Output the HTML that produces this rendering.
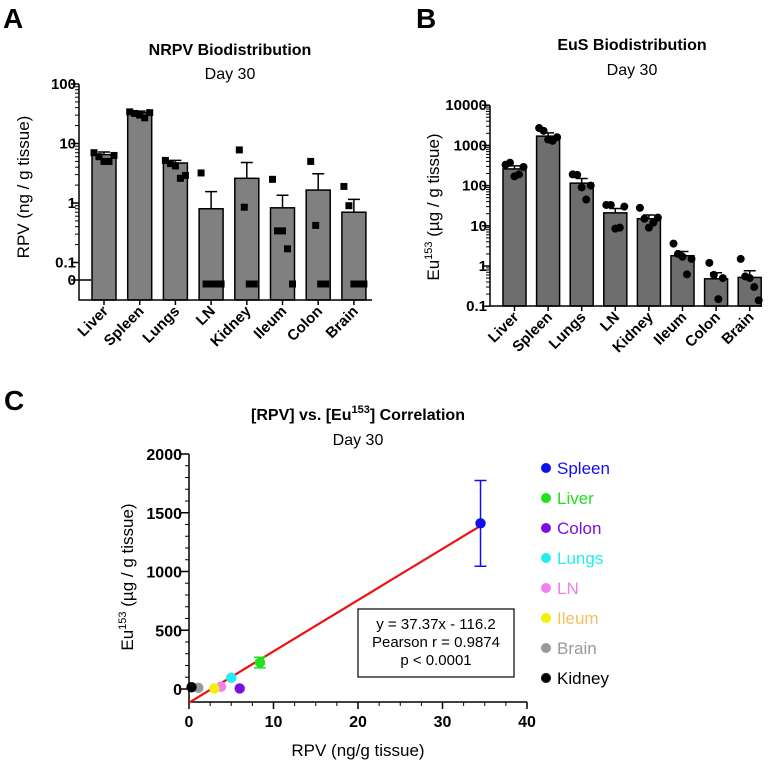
<!DOCTYPE html>
<html><head><meta charset="utf-8"><style>
html,body{margin:0;padding:0;background:#fff;}
svg{display:block;font-family:"Liberation Sans",Arial,sans-serif;}
</style></head><body>
<svg id="fig" width="775" height="767" viewBox="0 0 775 767" xmlns="http://www.w3.org/2000/svg">
<text x="3" y="28" font-size="28" font-weight="bold">A</text>
<text x="416" y="28" font-size="28" font-weight="bold">B</text>
<text x="4" y="410" font-size="28" font-weight="bold">C</text>
<g id="pa"></g>
<g id="pb"></g>
<g id="pc"></g>
</svg>
<script>
const organs = ["Liver","Spleen","Lungs","LN","Kidney","Ileum","Colon","Brain"];
// Panel A
const aMeans = [6.5,33,4.7,0.8,2.6,0.83,1.65,0.7];
const aErrTop = [7.2,35,5.2,1.55,4.8,1.35,3.1,1.15];
const aPoints = [[7,6,5,5,6.3],[34,32,30,27,33],[5.2,4.6,4.2,2.6,2.9],[3.2,0,0,0,0],[7.8,0.85,0,0],[2.5,0.34,0.34,0.17,0],[5,0.42,0,0],[1.9,0.9,0,0,0]];
const aTicks = [100,10,1,0.1];
const aTickLabels = ["100","10","1","0.1"];
// Panel B
const bMeans = [260,1700,115,21,15,1.8,0.48,0.52];
const bErrTop = [310,2050,150,27,18.5,2.3,0.68,0.76];
const bPoints = [[330,370,170,190,290],[2700,2300,1400,1300,1600],[190,185,90,45,100],[33,33,8.5,9,30],[28,15,9,12,16],[3.6,2,1.7,0.62,1.5],[1.2,0.6,0.15,0.5],[1.5,0.55,0.5,0.3,0.14]];
const bTicks = [10000,1000,100,10,1,0.1];
const bTickLabels = ["10000","1000","100","10","1","0.1"];
// Panel C
const cNames = ["Spleen","Liver","Colon","Lungs","LN","Ileum","Brain","Kidney"];
const cX = [34.5,8.4,6,5,3.8,3,1.1,0.3];
const cY = [1410,225,5,95,20,5,10,15];
const cErr = [365,45,0,0,0,0,0,0];
const cColors = ["#1010ee","#22e022","#7a10e0","#22eef0","#f07ff0","#f2f200","#999999","#000000"];
const cTextColors = ["#1010ee","#22e022","#7a10e0","#22eef0","#f07ff0","#f5c060","#999999","#000000"];
const cLineX = [0,34.4];
const cLineY = [-116,1385];
const cXTicks = [0,10,20,30,40];
const cYTicks = [0,500,1000,1500,2000];

const NS="http://www.w3.org/2000/svg";
function mk(p,tag,attrs,txt){const e=document.createElementNS(NS,tag);for(const k in attrs)e.setAttribute(k,attrs[k]);if(txt!==undefined)e.textContent=txt;p.appendChild(e);return e;}

// ---------- Panel A ----------
(function(){
const g=document.getElementById('pa');
const ax=79, base=300, axEnd=372;
const yA=v=> v<=0 ? 284 : 203-59.5*Math.log10(v);
const xA=i=> 92+i*35.7;
const bw=24;
mk(g,'text',{x:230,y:55,'font-size':16,'font-weight':'bold','text-anchor':'middle',},'NRPV Biodistribution');
mk(g,'text',{x:230,y:79,'font-size':16,'text-anchor':'middle',},'Day 30');
mk(g,'text',{x:0,y:0,'font-size':17,'text-anchor':'middle',transform:'translate(29,187) rotate(-90)',},'RPV (ng / g tissue)');
organs.forEach((o,i)=>{
 const x=xA(i), yt=yA(aMeans[i]);
 const b=mk(g,'rect',{x:x,y:yt,width:bw,height:base-yt,fill:'#808080',stroke:'#000','stroke-width':1.5});
 
 
 const cx=x+bw/2, ye=yA(aErrTop[i]);
 mk(g,'path',{d:`M${cx} ${yt}V${ye}M${cx-6} ${ye}H${cx+6}`,stroke:'#000','stroke-width':1.5,fill:'none'});
 const pts=aPoints[i], n=pts.length;
 pts.forEach((v,j)=>{
  const off=(j-(n-1)/2)*5;
  const s=mk(g,'rect',{x:cx+off-3.5,y:yA(v)-3.5,width:7,height:7,fill:'#000'});
  
  
 });
 mk(g,'path',{d:`M${cx} ${base}v5`,stroke:'#000','stroke-width':1.5});
 const t=mk(g,'text',{x:0,y:0,'font-size':15,'font-weight':'bold','text-anchor':'end',transform:`translate(${cx+5},${base+12}) rotate(-45)`},o);
 
 
});
mk(g,'path',{d:`M${ax} 84V${base}H${axEnd}`,stroke:'#000','stroke-width':1.5,fill:'none',});
for(let d=-1;d<2;d++){for(let m=2;m<10;m++){const y=yA(m*Math.pow(10,d));mk(g,'path',{d:`M${ax-4} ${y}H${ax}`,stroke:'#000','stroke-width':1});}}
aTicks.forEach((v,i)=>{const y=yA(v);mk(g,'path',{d:`M${ax-8} ${y}H${ax}`,stroke:'#000','stroke-width':1.5});
 const t=mk(g,'text',{x:ax-3,y:y+5,'font-size':15,'font-weight':'bold','text-anchor':'end'},aTickLabels[i]);
 });
mk(g,'path',{d:`M${ax-8} 280H${ax+12}`,stroke:'#000','stroke-width':1.5});
mk(g,'text',{x:ax-3,y:285,'font-size':15,'font-weight':'bold','text-anchor':'end',},'0');
})();

// ---------- Panel B ----------
(function(){
const g=document.getElementById('pb');
const ax=490, base=306, axEnd=762;
const yB=v=> 266-40.2*Math.log10(v);
const xB=i=> 503+i*33.6;
const bw=23;
mk(g,'text',{x:632,y:50,'font-size':16,'font-weight':'bold','text-anchor':'middle',},'EuS Biodistribution');
mk(g,'text',{x:632,y:75,'font-size':16,'text-anchor':'middle',},'Day 30');
const yl=mk(g,'text',{x:0,y:0,'font-size':17,'text-anchor':'middle',transform:'translate(439,207) rotate(-90)',});
yl.innerHTML='Eu<tspan font-size="11" dy="-7">153</tspan><tspan dy="7"> (µg / g tissue)</tspan>';
organs.forEach((o,i)=>{
 const x=xB(i), yt=yB(bMeans[i]);
 const b=mk(g,'rect',{x:x,y:yt,width:bw,height:base-yt,fill:'#6e6e6e',stroke:'#000','stroke-width':1.5});
 
 
 const cx=x+bw/2, ye=yB(bErrTop[i]);
 mk(g,'path',{d:`M${cx} ${yt}V${ye}M${cx-6} ${ye}H${cx+6}`,stroke:'#000','stroke-width':1.5,fill:'none'});
 const pts=bPoints[i], n=pts.length;
 pts.forEach((v,j)=>{
  const off=(j-(n-1)/2)*4.5;
  const c=mk(g,'circle',{cx:cx+off,cy:yB(v),r:4,fill:'#000'});
  
  
 });
 mk(g,'path',{d:`M${cx} ${base}v5`,stroke:'#000','stroke-width':1.5});
 const t=mk(g,'text',{x:0,y:0,'font-size':15,'font-weight':'bold','text-anchor':'end',transform:`translate(${cx+5},${base+12}) rotate(-45)`},o);
 
 
});
mk(g,'path',{d:`M${ax} ${yB(10000)}V${base}H${axEnd}`,stroke:'#000','stroke-width':1.5,fill:'none',});
for(let d=-1;d<4;d++){for(let m=2;m<10;m++){const y=yB(m*Math.pow(10,d));mk(g,'path',{d:`M${ax-4} ${y}H${ax}`,stroke:'#000','stroke-width':1});}}
bTicks.forEach((v,i)=>{const y=yB(v);mk(g,'path',{d:`M${ax-8} ${y}H${ax}`,stroke:'#000','stroke-width':1.5});
 const t=mk(g,'text',{x:ax-3,y:y+5,'font-size':15,'font-weight':'bold','text-anchor':'end'},bTickLabels[i]);
 });
})();

// ---------- Panel C ----------
(function(){
const g=document.getElementById('pc');
const ax=189, base=702, axEnd=527;
const xC=v=> 189+8.45*v;
const yC=v=> 689-0.1175*v;
const t1=mk(g,'text',{x:358,y:420,'font-size':16,'font-weight':'bold','text-anchor':'middle',});
t1.innerHTML='[RPV] vs. [Eu<tspan font-size="11" dy="-7">153</tspan><tspan dy="7">] Correlation</tspan>';
mk(g,'text',{x:358,y:445,'font-size':16,'text-anchor':'middle',},'Day 30');
const yl=mk(g,'text',{x:0,y:0,'font-size':17,'text-anchor':'middle',transform:'translate(133,577) rotate(-90)',});
yl.innerHTML='Eu<tspan font-size="11" dy="-7">153</tspan><tspan dy="7"> (µg / g tissue)</tspan>';
mk(g,'text',{x:358,y:756,'font-size':17,'text-anchor':'middle',},'RPV (ng/g tissue)');
mk(g,'path',{d:`M${ax} ${yC(2000)}V${base}H${axEnd}`,stroke:'#000','stroke-width':1.5,fill:'none',});
for(let v=100;v<2000;v+=100){if(v%500)mk(g,'path',{d:`M${ax-4} ${yC(v)}H${ax}`,stroke:'#000','stroke-width':1});}
for(let v=2.5;v<40;v+=2.5){if(v%10)mk(g,'path',{d:`M${xC(v)} ${base}v4`,stroke:'#000','stroke-width':1});}
cYTicks.forEach(v=>{const y=yC(v);mk(g,'path',{d:`M${ax-8} ${y}H${ax}`,stroke:'#000','stroke-width':1.5});
 const t=mk(g,'text',{x:ax-7,y:y+6,'font-size':16,'font-weight':'bold','text-anchor':'end'},String(v));
 });
cXTicks.forEach(v=>{const x=xC(v);mk(g,'path',{d:`M${x} ${base}v7`,stroke:'#000','stroke-width':1.5});
 const t=mk(g,'text',{x:x,y:727,'font-size':16,'font-weight':'bold','text-anchor':'middle'},String(v));
 });
mk(g,'line',{x1:xC(cLineX[0]),y1:yC(cLineY[0]),x2:xC(cLineX[1]),y2:yC(cLineY[1]),stroke:'#ee1111','stroke-width':2.2,});
cNames.forEach((n,i)=>{
 const x=xC(cX[i]), y=yC(cY[i]);
 if(cErr[i]>0){const a=yC(cY[i]+cErr[i]), b=yC(cY[i]-cErr[i]);
  mk(g,'path',{d:`M${x} ${a}V${b}M${x-6} ${a}H${x+6}M${x-6} ${b}H${x+6}`,stroke:cColors[i],'stroke-width':1.5,fill:'none'});}
 const c=mk(g,'circle',{cx:x,cy:y,r:5.2,fill:cColors[i]});
 
 
 const ly=468+i*30;
 const ld=mk(g,'circle',{cx:546,cy:ly,r:5,fill:cColors[i]});
 
 
 const lt=mk(g,'text',{x:557,y:ly+6,'font-size':17,fill:cTextColors[i]},n);
 
 
});
mk(g,'rect',{x:358,y:609,width:156,height:68,fill:'#fff',stroke:'#000','stroke-width':1.2,});
mk(g,'text',{x:436,y:629,'font-size':15,'text-anchor':'middle',},'y = 37.37x - 116.2');
mk(g,'text',{x:436,y:647,'font-size':15,'text-anchor':'middle',},'Pearson r = 0.9874');
mk(g,'text',{x:436,y:665,'font-size':15,'text-anchor':'middle',},'p < 0.0001');
})();
</script>
</body></html>
